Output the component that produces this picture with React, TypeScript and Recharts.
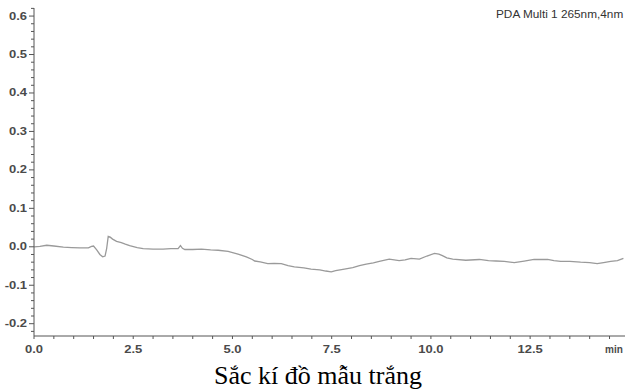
import React from 'react'
import { LineChart, Line, XAxis, YAxis } from 'recharts'

// retention time (min) and detector signal
const TIME = [
  0.0, 0.15, 0.32, 0.5, 0.74, 0.95, 1.16, 1.37, 1.45, 1.5, 1.58, 1.66, 1.73, 1.79, 1.83, 1.87, 1.92, 1.98,
  2.08, 2.2, 2.3, 2.41, 2.6, 2.75, 3.0, 3.25, 3.45, 3.63, 3.69, 3.74, 3.8, 4.0, 4.22, 4.45, 4.64, 4.89,
  5.14, 5.35, 5.5, 5.56, 5.7, 5.89, 6.05, 6.23, 6.4, 6.56, 6.8, 6.98, 7.2, 7.35, 7.49, 7.6, 7.82, 8.03,
  8.2, 8.37, 8.55, 8.7, 8.95, 9.2, 9.35, 9.5, 9.71, 9.9, 10.09, 10.2, 10.29, 10.4, 10.55, 10.88, 11.22,
  11.45, 11.64, 11.85, 12.1, 12.35, 12.6, 12.94, 13.1, 13.27, 13.5, 13.77, 14.0, 14.19, 14.35, 14.53,
  14.7, 14.85,
]
const SIGNAL = [
  0.0, 0.001, 0.004, 0.002, -0.001, -0.002, -0.003, -0.003, 0.001, 0.002, -0.008, -0.02, -0.026, -0.024,
  -0.005, 0.027, 0.025, 0.02, 0.014, 0.011, 0.007, 0.003, -0.002, -0.005, -0.006, -0.006, -0.005, -0.005,
  0.003, -0.004, -0.007, -0.007, -0.006, -0.008, -0.009, -0.012, -0.019, -0.026, -0.033, -0.037, -0.039,
  -0.044, -0.043, -0.044, -0.049, -0.052, -0.055, -0.058, -0.06, -0.063, -0.065, -0.062, -0.058, -0.054,
  -0.049, -0.045, -0.042, -0.038, -0.032, -0.036, -0.034, -0.03, -0.032, -0.024, -0.017, -0.019, -0.023,
  -0.029, -0.032, -0.035, -0.033, -0.036, -0.037, -0.038, -0.041, -0.037, -0.033, -0.033, -0.036, -0.038,
  -0.038, -0.04, -0.041, -0.044, -0.041, -0.038, -0.036, -0.03,
]

const X_MAJOR = [0, 2.5, 5, 7.5, 10, 12.5]
const Y_MAJOR = [-0.2, -0.1, 0.0, 0.1, 0.2, 0.3, 0.4, 0.5, 0.6]
const X_DOMAIN = [0, 14.89]
const Y_DOMAIN = [-0.232, 0.621]

const CHANNEL = 'PDA Multi 1 265nm,4nm'
const X_UNIT = 'min'
const CAPTION = 'Sắc kí đồ mẫu trắng'

// minor ticks: every 0.5 min on x, every 0.02 on y
const xTicks: number[] = []
for (let i = 0; i <= 29; i++) xTicks.push(i * 0.5)
const yTicks: number[] = []
for (let i = -11; i <= 31; i++) yTicks.push(Math.round(i * 2) / 100)

const data = TIME.map((t, i) => ({ t, v: SIGNAL[i] }))

const AXIS = '#555'
const LABEL = '#4a4a4a'
const LABEL_FONT = '"Liberation Sans", Arial, sans-serif'

const isMajor = (v: number, list: number[]) => list.some((m) => Math.abs(m - v) < 1e-6)

function XTick(props: any) {
  const { x, y, payload } = props
  const major = isMajor(payload.value, X_MAJOR)
  return (
    <g>
      <line x1={x} x2={x} y1={y} y2={y + 3} stroke={AXIS} strokeWidth={1} />
      {major && (
        <text
          transform={`translate(${x},${y + 17}) scale(1.3,1)`}
          textAnchor="middle"
          fontSize={10}
          fontWeight="bold"
          fill={LABEL}
          fontFamily={LABEL_FONT}
        >
          {payload.value.toFixed(1)}
        </text>
      )}
    </g>
  )
}

function YTick(props: any) {
  const { x, y, payload } = props
  const major = isMajor(payload.value, Y_MAJOR)
  return (
    <g>
      <line x1={x - (major ? 5 : 3)} x2={x} y1={y} y2={y} stroke={AXIS} strokeWidth={1} />
      {major && (
        <text
          transform={`translate(${x - 7},${y + 3.5}) scale(1.3,1)`}
          textAnchor="end"
          fontSize={10}
          fontWeight="bold"
          fill={LABEL}
          fontFamily={LABEL_FONT}
        >
          {payload.value.toFixed(1)}
        </text>
      )}
    </g>
  )
}

export default function App() {
  return (
    <div
      style={{
        position: 'absolute',
        left: 0,
        top: 0,
        width: 625,
        height: 391,
        overflow: 'hidden',
        background: '#fff',
      }}
    >
      <LineChart width={625} height={391} data={data} margin={{ top: 8, right: 0, left: 0, bottom: 35 }}>
        <XAxis
          dataKey="t"
          type="number"
          domain={X_DOMAIN}
          ticks={xTicks}
          interval={0}
          tick={<XTick />}
          tickLine={false}
          tickSize={0}
          tickMargin={0}
          height={20}
          axisLine={{ stroke: AXIS }}
          allowDataOverflow
        />
        <XAxis
          xAxisId="top"
          orientation="top"
          dataKey="t"
          type="number"
          domain={X_DOMAIN}
          height={0}
          tick={false}
          tickLine={false}
          axisLine={{ stroke: '#ddd' }}
        />
        <YAxis
          type="number"
          domain={Y_DOMAIN}
          ticks={yTicks}
          interval={0}
          width={34}
          tick={<YTick />}
          tickLine={false}
          tickSize={0}
          tickMargin={0}
          axisLine={{ stroke: AXIS }}
          allowDataOverflow
        />
        <Line
          type="linear"
          dataKey="v"
          stroke="#9a9a9a"
          strokeWidth={1.3}
          dot={false}
          isAnimationActive={false}
        />
      </LineChart>
      <div
        style={{
          position: 'absolute',
          left: 496,
          top: 9,
          fontFamily: LABEL_FONT,
          fontSize: 10,
          color: '#333',
          whiteSpace: 'nowrap',
          transform: 'scaleX(1.18)',
          transformOrigin: 'left top',
          lineHeight: '12px',
        }}
      >
        {CHANNEL}
      </div>
      <div
        style={{
          position: 'absolute',
          left: 605,
          top: 344,
          fontFamily: LABEL_FONT,
          fontSize: 10,
          fontWeight: 'bold',
          color: LABEL,
          whiteSpace: 'nowrap',
          lineHeight: '12px',
        }}
      >
        {X_UNIT}
      </div>
      <div
        style={{
          position: 'absolute',
          left: 0,
          width: 636,
          top: 361,
          textAlign: 'center',
          fontFamily: '"Liberation Serif", "Times New Roman", serif',
          fontSize: 26,
          lineHeight: '30px',
          color: '#000',
          whiteSpace: 'nowrap',
        }}
      >
        {CAPTION}
      </div>
    </div>
  )
}
